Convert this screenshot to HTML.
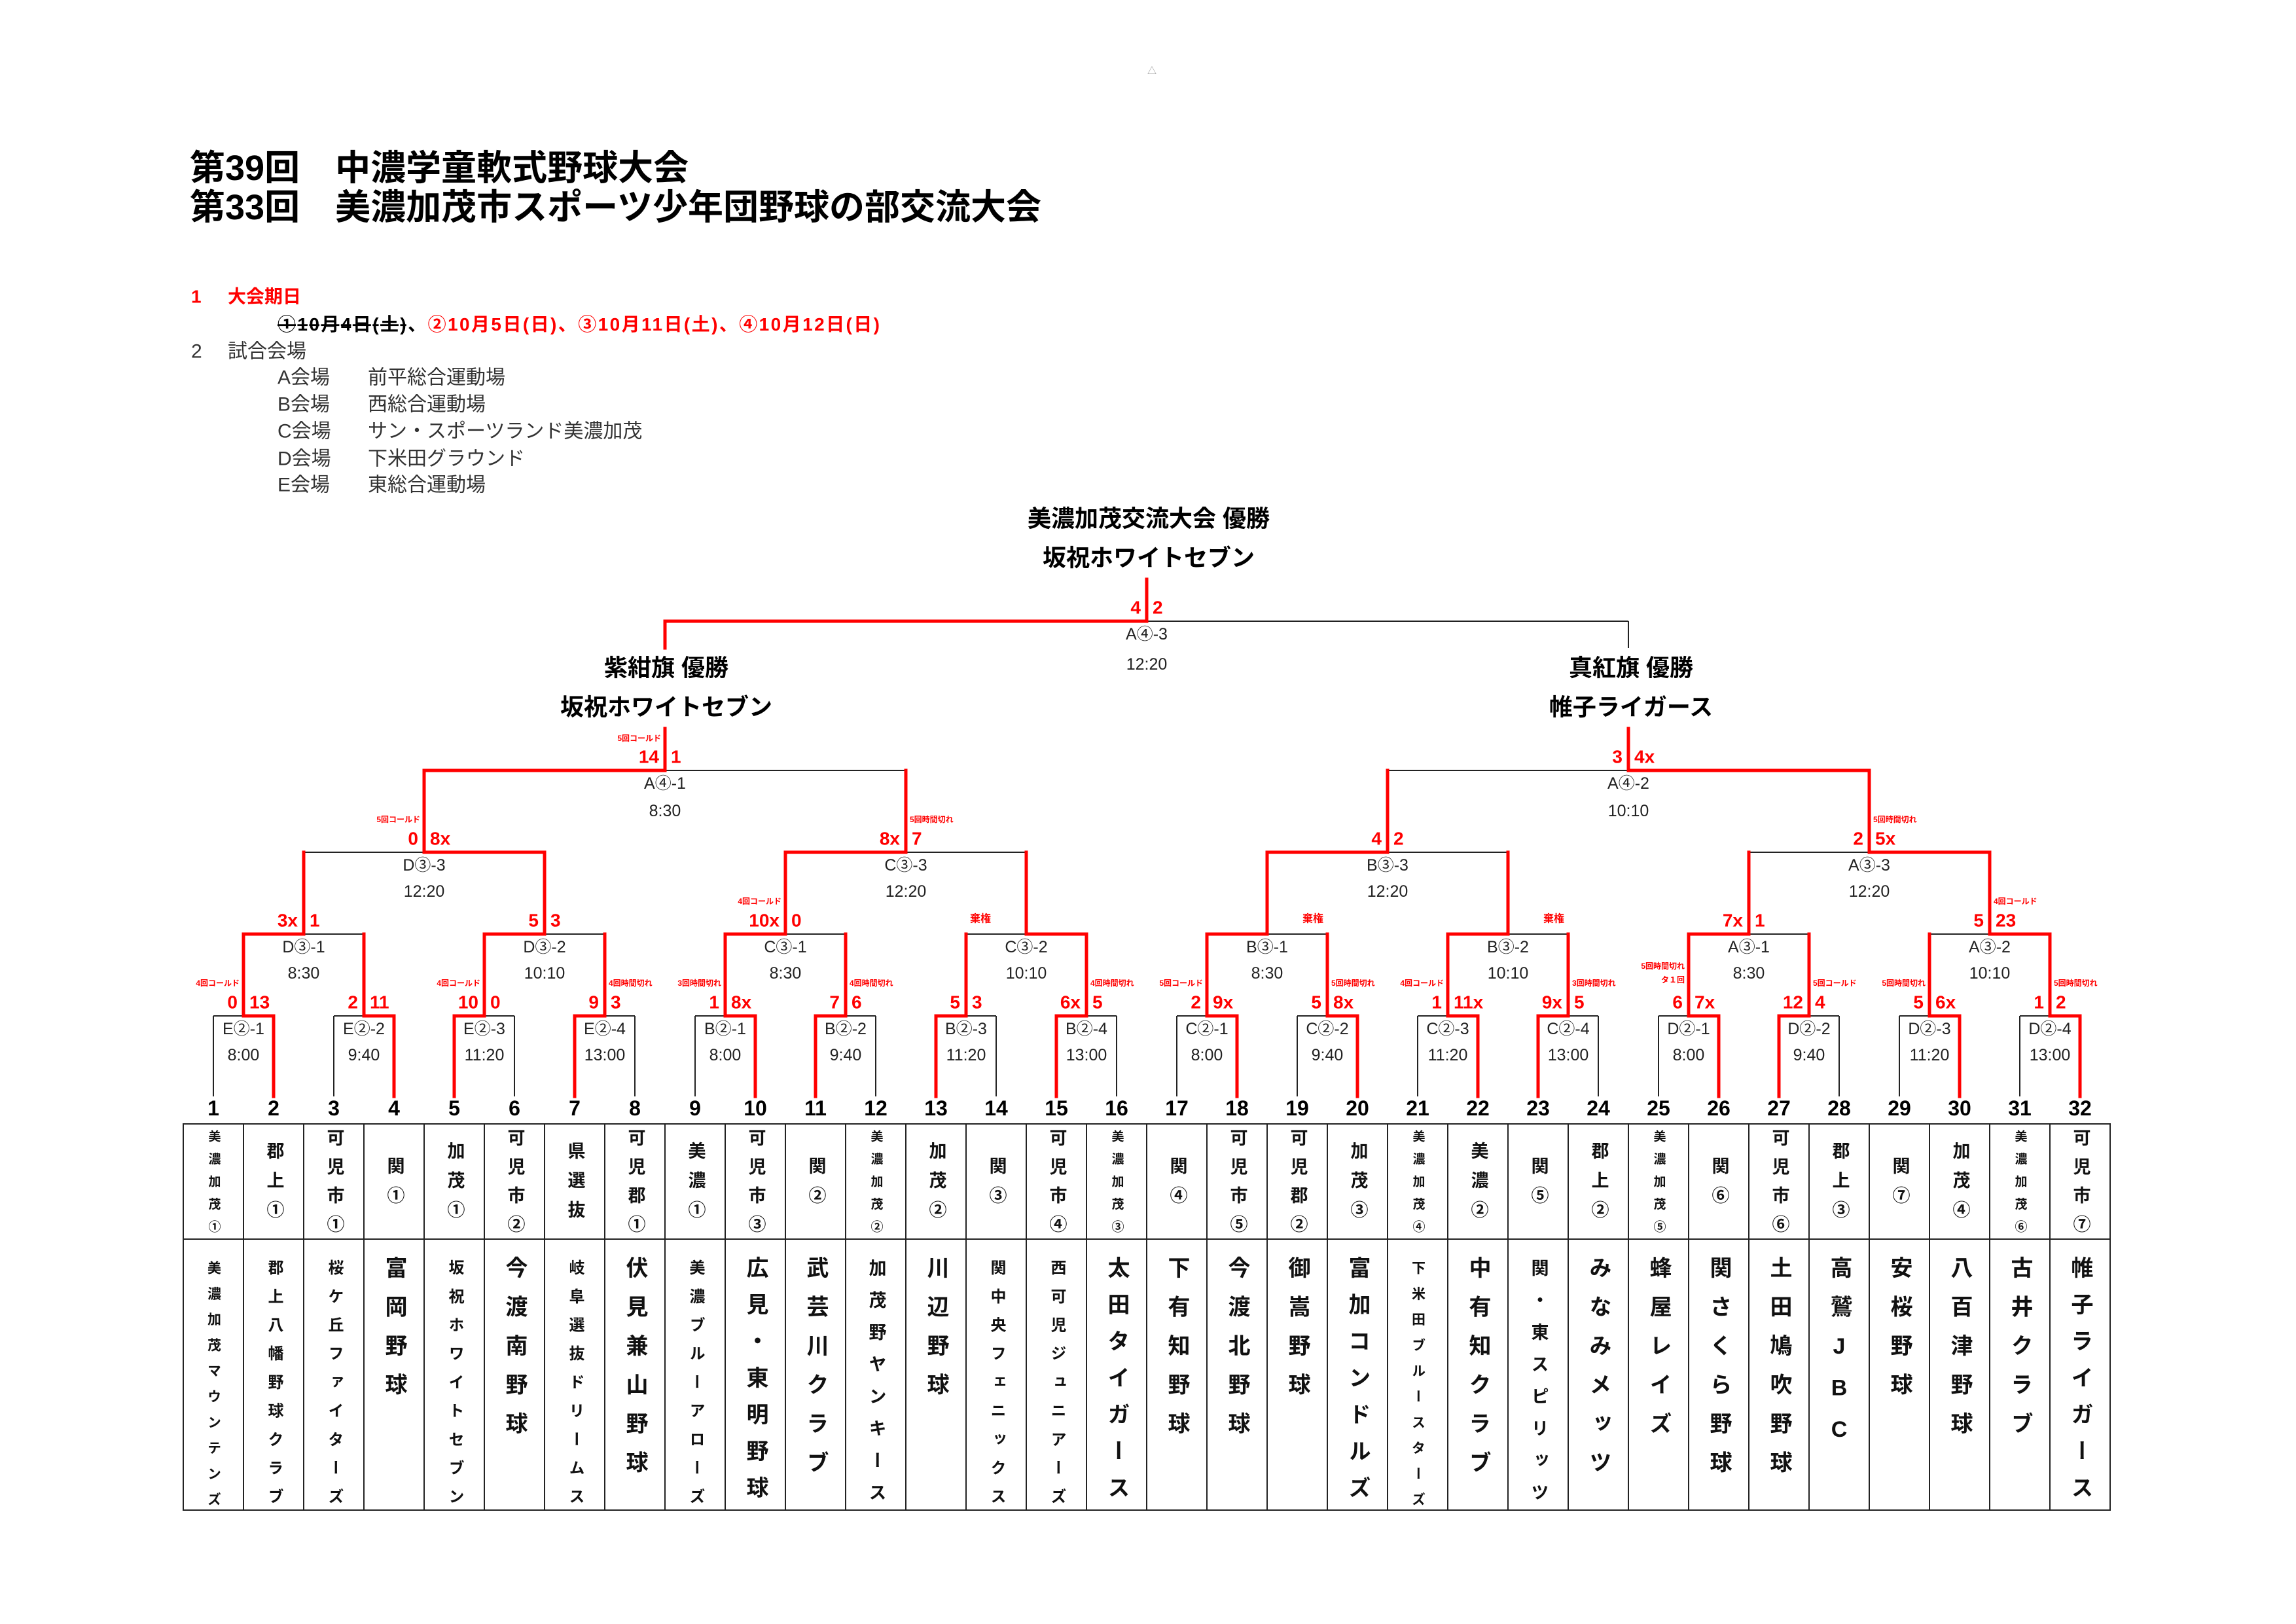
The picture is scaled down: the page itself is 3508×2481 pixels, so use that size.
<!DOCTYPE html>
<html><head><meta charset="utf-8">
<style>
html,body{margin:0;padding:0;background:#fff;}
body{width:3508px;height:2481px;position:relative;overflow:hidden;font-family:"Liberation Sans","Noto Sans CJK JP",sans-serif;}
svg{position:absolute;left:0;top:0;}
svg text{font-family:"Liberation Sans","Noto Sans CJK JP",sans-serif;dominant-baseline:central;}
.v{position:absolute;writing-mode:vertical-rl;text-orientation:upright;font-weight:bold;line-height:1;white-space:nowrap;color:#111;font-family:"Liberation Sans","Noto Sans CJK JP",sans-serif;}
.a2{font-size:27px;letter-spacing:18px;top:1766.5px}
.a3{font-size:27px;letter-spacing:18px;top:1743.5px}
.a4{font-size:27px;letter-spacing:17px;top:1723.5px}
.a5{font-size:19px;letter-spacing:15.5px;top:1725.5px}
.b6{font-size:34px;letter-spacing:25.5px;top:1919px}
.b7{font-size:34px;letter-spacing:22px;top:1919px}
.b8{font-size:27px;letter-spacing:22px;top:1922.5px}
.b9{font-size:24px;letter-spacing:19.7px;top:1924px}
.b10{font-size:21px;letter-spacing:18.3px;top:1925.5px}
</style></head><body>
<svg width="3508" height="2481" viewBox="0 0 3508 2481">
<text x="1760" y="108" font-size="14" fill="#999" text-anchor="middle">△</text>
<g font-weight="bold" fill="#000" font-size="54">
<text x="290" y="257">第39回　中濃学童軟式野球大会</text>
<text x="290" y="317">第33回　美濃加茂市スポーツ少年団野球の部交流大会</text>
</g>
<g font-size="28">
<text x="292" y="453" fill="#f00" font-weight="bold">1</text>
<text x="348" y="453" fill="#f00" font-weight="bold">大会期日</text>
<text x="424" y="495" font-weight="bold" textLength="920"><tspan fill="#000" text-decoration="line-through">①10月4日(土)</tspan><tspan fill="#000">、</tspan><tspan fill="#f00">②10月5日(日)、③10月11日(土)、④10月12日(日)</tspan></text>
</g>
<g fill="#333" font-size="30">
<text x="292" y="537">2</text><text x="348" y="537">試合会場</text>
<text x="424" y="577">A会場</text><text x="562" y="577">前平総合運動場</text>
<text x="424" y="618">B会場</text><text x="562" y="618">西総合運動場</text>
<text x="424" y="659">C会場</text><text x="562" y="659">サン・スポーツランド美濃加茂</text>
<text x="424" y="701">D会場</text><text x="562" y="701">下米田グラウンド</text>
<text x="424" y="741">E会場</text><text x="562" y="741">東総合運動場</text>
</g>
<g font-weight="bold" font-size="36" text-anchor="middle" fill="#000">
<text x="1755" y="792">美濃加茂交流大会 優勝</text>
<text x="1755" y="852">坂祝ホワイトセブン</text>
<text x="1018" y="1020">紫紺旗 優勝</text>
<text x="1018" y="1080">坂祝ホワイトセブン</text>
<text x="2492" y="1020">真紅旗 優勝</text>
<text x="2492" y="1080">帷子ライガース</text>
</g>
<g stroke="#222" stroke-width="2" fill="none">
<line x1="326" y1="1552" x2="326" y2="1675"/><line x1="510" y1="1552" x2="510" y2="1675"/>
<line x1="786" y1="1552" x2="786" y2="1675"/><line x1="970" y1="1552" x2="970" y2="1675"/>
<line x1="1062" y1="1552" x2="1062" y2="1675"/><line x1="1338" y1="1552" x2="1338" y2="1675"/>
<line x1="1522" y1="1552" x2="1522" y2="1675"/><line x1="1706" y1="1552" x2="1706" y2="1675"/>
<line x1="1798" y1="1552" x2="1798" y2="1675"/><line x1="1982" y1="1552" x2="1982" y2="1675"/>
<line x1="2166" y1="1552" x2="2166" y2="1675"/><line x1="2442" y1="1552" x2="2442" y2="1675"/>
<line x1="2534" y1="1552" x2="2534" y2="1675"/><line x1="2810" y1="1552" x2="2810" y2="1675"/>
<line x1="2902" y1="1552" x2="2902" y2="1675"/><line x1="3086" y1="1552" x2="3086" y2="1675"/>
<line x1="326" y1="1552" x2="372" y2="1552"/><line x1="510" y1="1552" x2="556" y2="1552"/>
<line x1="740" y1="1552" x2="786" y2="1552"/><line x1="924" y1="1552" x2="970" y2="1552"/>
<line x1="1062" y1="1552" x2="1108" y2="1552"/><line x1="1292" y1="1552" x2="1338" y2="1552"/>
<line x1="1476" y1="1552" x2="1522" y2="1552"/><line x1="1660" y1="1552" x2="1706" y2="1552"/>
<line x1="1798" y1="1552" x2="1844" y2="1552"/><line x1="1982" y1="1552" x2="2028" y2="1552"/>
<line x1="2166" y1="1552" x2="2212" y2="1552"/><line x1="2396" y1="1552" x2="2442" y2="1552"/>
<line x1="2534" y1="1552" x2="2580" y2="1552"/><line x1="2764" y1="1552" x2="2810" y2="1552"/>
<line x1="2902" y1="1552" x2="2948" y2="1552"/><line x1="3086" y1="1552" x2="3132" y2="1552"/>
<line x1="464" y1="1427" x2="556" y2="1427"/><line x1="832" y1="1427" x2="924" y2="1427"/>
<line x1="1200" y1="1427" x2="1292" y2="1427"/><line x1="1476" y1="1427" x2="1568" y2="1427"/>
<line x1="1936" y1="1427" x2="2028" y2="1427"/><line x1="2304" y1="1427" x2="2396" y2="1427"/>
<line x1="2672" y1="1427" x2="2764" y2="1427"/><line x1="2948" y1="1427" x2="3040" y2="1427"/>
<line x1="464" y1="1302" x2="648" y2="1302"/><line x1="1384" y1="1302" x2="1568" y2="1302"/>
<line x1="2120" y1="1302" x2="2304" y2="1302"/><line x1="2672" y1="1302" x2="2856" y2="1302"/>
<line x1="1016" y1="1177" x2="1384" y2="1177"/><line x1="2120" y1="1177" x2="2488" y2="1177"/>
<line x1="1752" y1="949" x2="2488" y2="949"/><line x1="2488" y1="949" x2="2488" y2="990"/>
<rect x="280" y="1717" width="2944" height="590"/>
<line x1="280" y1="1893" x2="3224" y2="1893"/>
<path d="M372 1717V2307M464 1717V2307M556 1717V2307M648 1717V2307M740 1717V2307M832 1717V2307M924 1717V2307M1016 1717V2307M1108 1717V2307M1200 1717V2307M1292 1717V2307M1384 1717V2307M1476 1717V2307M1568 1717V2307M1660 1717V2307M1752 1717V2307M1844 1717V2307M1936 1717V2307M2028 1717V2307M2120 1717V2307M2212 1717V2307M2304 1717V2307M2396 1717V2307M2488 1717V2307M2580 1717V2307M2672 1717V2307M2764 1717V2307M2856 1717V2307M2948 1717V2307M3040 1717V2307M3132 1717V2307"/>
</g>
<g stroke="#f00" stroke-width="5" fill="none" stroke-linecap="square">
<path d="M418 1675V1552H372M602 1675V1552H556M694 1675V1552H740M878 1675V1552H924M1154 1675V1552H1108M1246 1675V1552H1292M1430 1675V1552H1476M1614 1675V1552H1660M1890 1675V1552H1844M2074 1675V1552H2028M2258 1675V1552H2212M2350 1675V1552H2396M2626 1675V1552H2580M2718 1675V1552H2764M2994 1675V1552H2948M3178 1675V1552H3132"/>
<path d="M372 1552V1427H464M556 1552V1427M740 1552V1427H832M924 1552V1427M1108 1552V1427H1200M1292 1552V1427M1476 1552V1427M1660 1552V1427H1568M1844 1552V1427H1936M2028 1552V1427M2212 1552V1427H2304M2396 1552V1427M2580 1552V1427H2672M2764 1552V1427M2948 1552V1427M3132 1552V1427H3040"/>
<path d="M464 1427V1302M832 1427V1302H648M1200 1427V1302H1384M1568 1427V1302M1936 1427V1302H2120M2304 1427V1302M2672 1427V1302M3040 1427V1302H2856"/>
<path d="M648 1302V1177H1016M1384 1302V1177M2120 1302V1177M2856 1302V1177H2488M1016 1177V1113M2488 1177V1113"/>
<path d="M1016 990V949H1752M1752 949V885"/>
</g>
<g font-size="25" fill="#222" text-anchor="middle">
<text x="372" y="1572">E②-1</text><text x="372" y="1612">8:00</text>
<text x="556" y="1572">E②-2</text><text x="556" y="1612">9:40</text>
<text x="740" y="1572">E②-3</text><text x="740" y="1612">11:20</text>
<text x="924" y="1572">E②-4</text><text x="924" y="1612">13:00</text>
<text x="1108" y="1572">B②-1</text><text x="1108" y="1612">8:00</text>
<text x="1292" y="1572">B②-2</text><text x="1292" y="1612">9:40</text>
<text x="1476" y="1572">B②-3</text><text x="1476" y="1612">11:20</text>
<text x="1660" y="1572">B②-4</text><text x="1660" y="1612">13:00</text>
<text x="1844" y="1572">C②-1</text><text x="1844" y="1612">8:00</text>
<text x="2028" y="1572">C②-2</text><text x="2028" y="1612">9:40</text>
<text x="2212" y="1572">C②-3</text><text x="2212" y="1612">11:20</text>
<text x="2396" y="1572">C②-4</text><text x="2396" y="1612">13:00</text>
<text x="2580" y="1572">D②-1</text><text x="2580" y="1612">8:00</text>
<text x="2764" y="1572">D②-2</text><text x="2764" y="1612">9:40</text>
<text x="2948" y="1572">D②-3</text><text x="2948" y="1612">11:20</text>
<text x="3132" y="1572">D②-4</text><text x="3132" y="1612">13:00</text>
<text x="464" y="1447">D③-1</text><text x="464" y="1487">8:30</text>
<text x="832" y="1447">D③-2</text><text x="832" y="1487">10:10</text>
<text x="1200" y="1447">C③-1</text><text x="1200" y="1487">8:30</text>
<text x="1568" y="1447">C③-2</text><text x="1568" y="1487">10:10</text>
<text x="1936" y="1447">B③-1</text><text x="1936" y="1487">8:30</text>
<text x="2304" y="1447">B③-2</text><text x="2304" y="1487">10:10</text>
<text x="2672" y="1447">A③-1</text><text x="2672" y="1487">8:30</text>
<text x="3040" y="1447">A③-2</text><text x="3040" y="1487">10:10</text>
<text x="648" y="1322">D③-3</text><text x="648" y="1362">12:20</text>
<text x="1384" y="1322">C③-3</text><text x="1384" y="1362">12:20</text>
<text x="2120" y="1322">B③-3</text><text x="2120" y="1362">12:20</text>
<text x="2856" y="1322">A③-3</text><text x="2856" y="1362">12:20</text>
<text x="1016" y="1197">A④-1</text><text x="1016" y="1239">8:30</text>
<text x="2488" y="1197">A④-2</text><text x="2488" y="1239">10:10</text>
<text x="1752" y="969">A④-3</text><text x="1752" y="1015">12:20</text>
</g>
<g font-size="28" font-weight="bold" fill="#f00">
<g text-anchor="end">
<text x="363" y="1531">0</text><text x="547" y="1531">2</text><text x="731" y="1531">10</text><text x="915" y="1531">9</text>
<text x="1099" y="1531">1</text><text x="1283" y="1531">7</text><text x="1467" y="1531">5</text><text x="1651" y="1531">6x</text>
<text x="1835" y="1531">2</text><text x="2019" y="1531">5</text><text x="2203" y="1531">1</text><text x="2387" y="1531">9x</text>
<text x="2571" y="1531">6</text><text x="2755" y="1531">12</text><text x="2939" y="1531">5</text><text x="3123" y="1531">1</text>
<text x="455" y="1406">3x</text><text x="823" y="1406">5</text><text x="1191" y="1406">10x</text><text x="2663" y="1406">7x</text><text x="3031" y="1406">5</text>
<text x="639" y="1281">0</text><text x="1375" y="1281">8x</text><text x="2111" y="1281">4</text><text x="2847" y="1281">2</text>
<text x="1007" y="1156">14</text><text x="2479" y="1156">3</text>
<text x="1743" y="928">4</text>
</g>
<g text-anchor="start">
<text x="381" y="1531">13</text><text x="565" y="1531">11</text><text x="749" y="1531">0</text><text x="933" y="1531">3</text>
<text x="1117" y="1531">8x</text><text x="1301" y="1531">6</text><text x="1485" y="1531">3</text><text x="1669" y="1531">5</text>
<text x="1853" y="1531">9x</text><text x="2037" y="1531">8x</text><text x="2221" y="1531">11x</text><text x="2405" y="1531">5</text>
<text x="2589" y="1531">7x</text><text x="2773" y="1531">4</text><text x="2957" y="1531">6x</text><text x="3141" y="1531">2</text>
<text x="473" y="1406">1</text><text x="841" y="1406">3</text><text x="1209" y="1406">0</text><text x="2681" y="1406">1</text><text x="3049" y="1406">23</text>
<text x="657" y="1281">8x</text><text x="1393" y="1281">7</text><text x="2129" y="1281">2</text><text x="2865" y="1281">5x</text>
<text x="1025" y="1156">1</text><text x="2497" y="1156">4x</text>
<text x="1761" y="928">2</text>
</g>
</g>
<g font-size="12" font-weight="bold" fill="#f00">
<g text-anchor="end">
<text x="366" y="1502">4回コールド</text><text x="734" y="1502">4回コールド</text><text x="1102" y="1502">3回時間切れ</text>
<text x="1838" y="1502">5回コールド</text><text x="2206" y="1502">4回コールド</text>
<text x="2574" y="1476">5回時間切れ</text><text x="2574" y="1497">タ１回</text>
<text x="2942" y="1502">5回時間切れ</text>
<text x="1194" y="1377">4回コールド</text>
<text x="642" y="1252">5回コールド</text>
<text x="1010" y="1128">5回コールド</text>
</g>
<g text-anchor="start">
<text x="930" y="1502">4回時間切れ</text><text x="1298" y="1502">4回時間切れ</text><text x="1666" y="1502">4回時間切れ</text>
<text x="2034" y="1502">5回時間切れ</text><text x="2402" y="1502">3回時間切れ</text><text x="2770" y="1502">5回コールド</text>
<text x="3138" y="1502">5回時間切れ</text>
<text x="3046" y="1377">4回コールド</text>
<text x="1390" y="1252">5回時間切れ</text><text x="2862" y="1252">5回時間切れ</text>
</g>
<g font-size="16" text-anchor="middle">
<text x="1498" y="1404">棄権</text><text x="2006" y="1404">棄権</text><text x="2374" y="1404">棄権</text>
</g>
</g>
<g font-size="32" font-weight="bold" fill="#000" text-anchor="middle">
<text x="326" y="1693">1</text><text x="418" y="1693">2</text><text x="510" y="1693">3</text><text x="602" y="1693">4</text>
<text x="694" y="1693">5</text><text x="786" y="1693">6</text><text x="878" y="1693">7</text><text x="970" y="1693">8</text>
<text x="1062" y="1693">9</text><text x="1154" y="1693">10</text><text x="1246" y="1693">11</text><text x="1338" y="1693">12</text>
<text x="1430" y="1693">13</text><text x="1522" y="1693">14</text><text x="1614" y="1693">15</text><text x="1706" y="1693">16</text>
<text x="1798" y="1693">17</text><text x="1890" y="1693">18</text><text x="1982" y="1693">19</text><text x="2074" y="1693">20</text>
<text x="2166" y="1693">21</text><text x="2258" y="1693">22</text><text x="2350" y="1693">23</text><text x="2442" y="1693">24</text>
<text x="2534" y="1693">25</text><text x="2626" y="1693">26</text><text x="2718" y="1693">27</text><text x="2810" y="1693">28</text>
<text x="2902" y="1693">29</text><text x="2994" y="1693">30</text><text x="3086" y="1693">31</text><text x="3178" y="1693">32</text>
</g>
</svg>
<div class="v a5" style="left:316.5px">美濃加茂①</div>
<div class="v a3" style="left:404.5px">郡上①</div>
<div class="v a4" style="left:496.5px">可児市①</div>
<div class="v a2" style="left:588.5px">関①</div>
<div class="v a3" style="left:680.5px">加茂①</div>
<div class="v a4" style="left:772.5px">可児市②</div>
<div class="v a3" style="left:864.5px">県選抜</div>
<div class="v a4" style="left:956.5px">可児郡①</div>
<div class="v a3" style="left:1048.5px">美濃①</div>
<div class="v a4" style="left:1140.5px">可児市③</div>
<div class="v a2" style="left:1232.5px">関②</div>
<div class="v a5" style="left:1328.5px">美濃加茂②</div>
<div class="v a3" style="left:1416.5px">加茂②</div>
<div class="v a2" style="left:1508.5px">関③</div>
<div class="v a4" style="left:1600.5px">可児市④</div>
<div class="v a5" style="left:1696.5px">美濃加茂③</div>
<div class="v a2" style="left:1784.5px">関④</div>
<div class="v a4" style="left:1876.5px">可児市⑤</div>
<div class="v a4" style="left:1968.5px">可児郡②</div>
<div class="v a3" style="left:2060.5px">加茂③</div>
<div class="v a5" style="left:2156.5px">美濃加茂④</div>
<div class="v a3" style="left:2244.5px">美濃②</div>
<div class="v a2" style="left:2336.5px">関⑤</div>
<div class="v a3" style="left:2428.5px">郡上②</div>
<div class="v a5" style="left:2524.5px">美濃加茂⑤</div>
<div class="v a2" style="left:2612.5px">関⑥</div>
<div class="v a4" style="left:2704.5px">可児市⑥</div>
<div class="v a3" style="left:2796.5px">郡上③</div>
<div class="v a2" style="left:2888.5px">関⑦</div>
<div class="v a3" style="left:2980.5px">加茂④</div>
<div class="v a5" style="left:3076.5px">美濃加茂⑥</div>
<div class="v a4" style="left:3164.5px">可児市⑦</div>
<div class="v b10" style="left:315.5px">美濃加茂マウンテンズ</div>
<div class="v b9" style="left:406px">郡上八幡野球クラブ</div>
<div class="v b9" style="left:498px">桜ケ丘ファイターズ</div>
<div class="v b6" style="left:585px">富岡野球</div>
<div class="v b9" style="left:682px">坂祝ホワイトセブン</div>
<div class="v b6" style="left:769px">今渡南野球</div>
<div class="v b9" style="left:866px">岐阜選抜ドリームス</div>
<div class="v b6" style="left:953px">伏見兼山野球</div>
<div class="v b9" style="left:1050px">美濃ブルーアローズ</div>
<div class="v b7" style="left:1137px">広見・東明野球</div>
<div class="v b6" style="left:1229px">武芸川クラブ</div>
<div class="v b8" style="left:1324.5px">加茂野ヤンキース</div>
<div class="v b6" style="left:1413px">川辺野球</div>
<div class="v b9" style="left:1510px">関中央フェニックス</div>
<div class="v b9" style="left:1602px">西可児ジュニアーズ</div>
<div class="v b7" style="left:1689px">太田タイガース</div>
<div class="v b6" style="left:1781px">下有知野球</div>
<div class="v b6" style="left:1873px">今渡北野球</div>
<div class="v b6" style="left:1965px">御嵩野球</div>
<div class="v b7" style="left:2057px">富加コンドルズ</div>
<div class="v b10" style="left:2155.5px">下米田ブルースターズ</div>
<div class="v b6" style="left:2241px">中有知クラブ</div>
<div class="v b8" style="left:2336.5px">関・東スピリッツ</div>
<div class="v b6" style="left:2425px">みなみメッツ</div>
<div class="v b6" style="left:2517px">蜂屋レイズ</div>
<div class="v b6" style="left:2609px">関さくら野球</div>
<div class="v b6" style="left:2701px">土田鳩吹野球</div>
<div class="v b6" style="left:2793px">高鷲JBC</div>
<div class="v b6" style="left:2885px">安桜野球</div>
<div class="v b6" style="left:2977px">八百津野球</div>
<div class="v b6" style="left:3069px">古井クラブ</div>
<div class="v b7" style="left:3161px">帷子ライガース</div>
</body></html>
